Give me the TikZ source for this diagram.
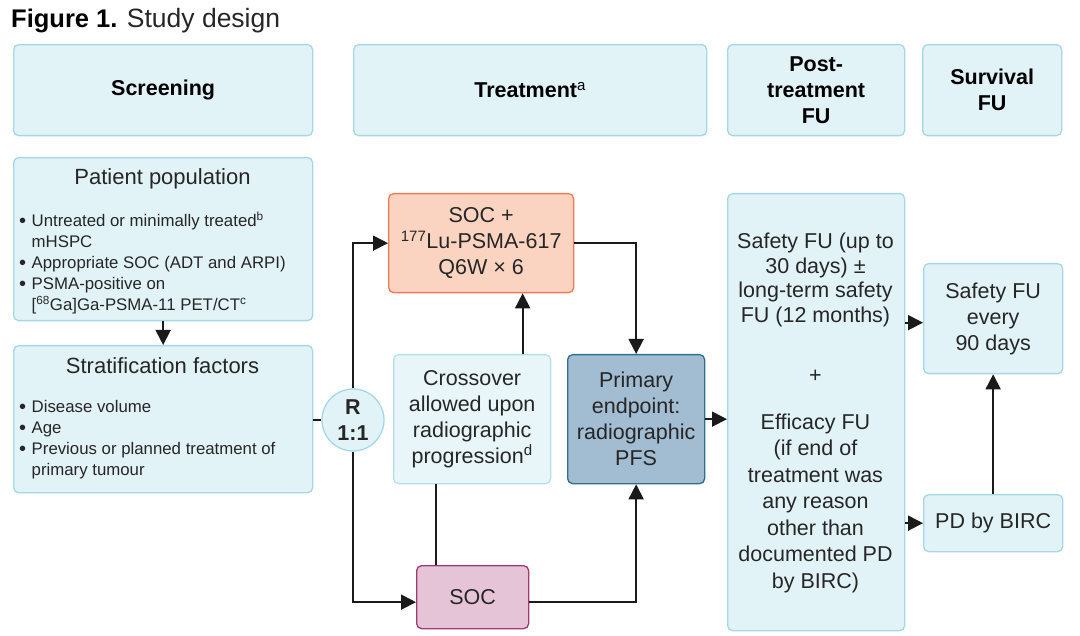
\documentclass[tikz,border=0pt]{standalone}
\usepackage{fontspec}
\setmainfont{Liberation Sans}
\usetikzlibrary{arrows.meta}
\definecolor{hfill}{HTML}{E2F3F8}
\definecolor{hdraw}{HTML}{A3D8E5}
\definecolor{cfill}{HTML}{E8F6FA}
\definecolor{cdraw}{HTML}{B3E1EB}
\definecolor{ofill}{HTML}{FBD4C1}
\definecolor{odraw}{HTML}{EE7B52}
\definecolor{pfill}{HTML}{A2BCD1}
\definecolor{pdraw}{HTML}{2E6E8E}
\definecolor{sfill}{HTML}{E5C4D8}
\definecolor{sdraw}{HTML}{A23A70}
\definecolor{txt}{HTML}{262626}
\definecolor{lncol}{HTML}{1A1A1A}
\newcommand{\itm}{\makebox[12.5pt][l]{\raisebox{-0.5pt}{\fontsize{20}{20}\selectfont\textbullet}}}
\newcommand{\cnt}{\hspace*{12.5pt}}
\begin{document}
\begin{tikzpicture}[x=1pt,y=-1pt,
  bx/.style={draw, rounded corners=5pt, line width=1.3pt, inner sep=0pt, anchor=north west, align=center, text=txt, font=\fontsize{21.5}{26}\selectfont},
  lb/.style={bx, fill=hfill, draw=hdraw},
  hd/.style={lb, text=black, font=\bfseries\fontsize{21.5}{26}\selectfont},
  tx/.style={inner sep=0pt, align=center, text=txt, font=\fontsize{21.5}{26}\selectfont},
  bl/.style={inner sep=0pt, align=left, text=txt, anchor=west, font=\fontsize{16.8}{21}\selectfont},
  arr/.style={draw=lncol, line width=1.8pt, -{Triangle[length=15pt,width=15pt]}},
  ln/.style={draw=lncol, line width=1.8pt}]
\useasboundingbox (0,0) rectangle (1080,636);
% title
\node[inner sep=0pt, anchor=base west, text=txt, font=\fontsize{25.5}{28}\selectfont] (title) at (11,28) {\textbf{\color{black}Figure 1.} {\fontsize{26.5}{28}\selectfont Study design}};
% headers
\node[hd, minimum width=299pt, minimum height=91pt] (hs) at (13,44) {Screening};
\node[hd, minimum width=353pt, minimum height=91pt] (ht) at (353,44) {Treatment\textsuperscript{\mdseries a}};
\node[hd, minimum width=177pt, minimum height=91pt] (hp) at (727,44) {Post-\\treatment\\FU};
\node[hd, minimum width=139pt, minimum height=91pt] (hv) at (922,44) {Survival\\FU};
% screening boxes
\node[lb, minimum width=299pt, minimum height=163pt] (pp) at (13,157) {};
\node[tx, font=\fontsize{22}{26}\selectfont] (ppt) at (162.5,179) {Patient population};
\node[bl] (ppl) at (19,263) {\itm Untreated or minimally treated\textsuperscript{b}\\\cnt mHSPC\\\itm Appropriate SOC (ADT and ARPI)\\\itm PSMA-positive on\\\cnt [\textsuperscript{68}Ga]Ga-PSMA-11 PET/CT\textsuperscript{c}};
\node[lb, minimum width=299pt, minimum height=147pt] (st) at (13,345) {};
\node[tx, font=\fontsize{22}{26}\selectfont] (stt) at (162.5,366) {Stratification factors};
\node[bl] (stl) at (19,440) {\itm Disease volume\\\itm Age\\\itm Previous or planned treatment of\\\cnt primary tumour};
% randomisation
\node[circle, draw=hdraw, fill=hfill, line width=1.3pt, minimum size=62pt, inner sep=0pt, align=center, text=txt, font=\bfseries\fontsize{21.5}{26}\selectfont] (r) at (353,420) {R\\1:1};
% treatment boxes
\node[bx, fill=ofill, draw=odraw, minimum width=185pt, minimum height=99pt] (socp) at (388,193) {SOC +\\\textsuperscript{177}Lu-PSMA-617\\Q6W × 6};
\node[bx, fill=cfill, draw=cdraw, minimum width=157pt, minimum height=129pt] (cr) at (393,354) {Crossover\\allowed upon\\radiographic\\progression\textsuperscript{d}};
\node[bx, fill=pfill, draw=pdraw, minimum width=137pt, minimum height=129pt] (pr) at (567,354) {Primary\\endpoint:\\radiographic\\PFS};
\node[bx, fill=sfill, draw=sdraw, minimum width=112pt, minimum height=63pt] (soc) at (416,565) {SOC};
% post-treatment
\node[lb, minimum width=177pt, minimum height=437pt] (post) at (727,193) {};
\node[tx, font=\fontsize{21.5}{24.5}\selectfont] (posta) at (815.5,280) {Safety FU (up to\\30 days) ±\\long-term safety\\FU (12 months)};
\node[tx] (postb) at (815.5,376) {+};
\node[tx, font=\fontsize{21.5}{26.5}\selectfont] (postc) at (815.5,503) {Efficacy FU\\(if end of\\treatment was\\any reason\\other than\\documented PD\\by BIRC)};
% survival
\node[lb, minimum width=139pt, minimum height=110pt] (sf) at (923,263) {Safety FU\\every\\90 days};
\node[lb, minimum width=139pt, minimum height=57pt] (pd) at (923,494) {PD by BIRC};
% connectors
\draw[arr] (pp.south) -- (st.north);
\draw[ln] (r.west -| st.east) -- (r.west);
\draw[arr] (r.north) |- (socp.west);
\coordinate (socw) at ([yshift=-5pt]soc.west);
\coordinate (soce) at ([yshift=-5pt]soc.east);
\draw[arr] (r.south) |- (socw);
\coordinate (cxt) at ([xshift=50.5pt]cr.north);
\coordinate (cxb) at ([xshift=-36.5pt]cr.south);
\draw[arr] (cxt) -- (cxt |- socp.south);
\draw[ln] (cxb) -- (cxb |- soc.north);
\draw[arr] (socp.east) -| (pr.north);
\draw[arr] (soce) -| (pr.south);
\draw[arr] (pr.east) -- (pr.east -| post.west);
\coordinate (sfa) at ([yshift=-4pt]sf.west);
\draw[arr] (sfa -| post.east) -- (sfa);
\draw[arr] (pd.west -| post.east) -- (pd.west);
\draw[arr] (pd.north) -- (sf.south);
\end{tikzpicture}
\end{document}
